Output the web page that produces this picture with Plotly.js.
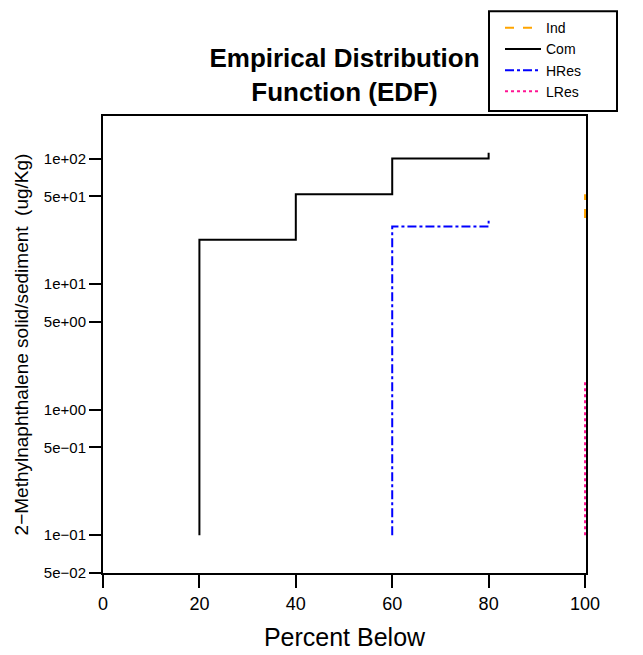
<!DOCTYPE html>
<html>
<head>
<meta charset="utf-8">
<script src="https://cdn.plot.ly/plotly-3.0.1.min.js"></script>
<style>html,body{margin:0;padding:0;background:#fff;}#chart{width:643px;height:655px;}</style>
</head>
<body>
<div id="chart"></div>
<script>
// Step-path points (percent below, concentration)
const indPct = [100, 100];
const indVal = [33.6, 52];
const comPct = [20, 40, 60, 80, 80];
const comVal = [0.1, 22.6, 52, 100, 111];
const hresPct = [60, 80, 80];
const hresVal = [0.1, 28.8, 32];
const lresPct = [100, 100];
const lresVal = [0.1, 1.75];

const yTickVals = [100, 50, 10, 5, 1, 0.5, 0.1, 0.05];
const yTickText = ["1e+02", "5e+01", "1e+01", "5e+00", "1e+00", "5e\u221201", "1e\u221201", "5e\u221202"];
const xTickVals = [0, 20, 40, 60, 80, 100];

const FONT = "Liberation Sans, Arial, Helvetica, sans-serif";

const traces = [
  {name: "Ind", x: indPct, y: indVal, mode: "lines", line: {color: "#FFA500", width: 2, dash: "dash"}},
  {name: "Com", x: comPct, y: comVal, mode: "lines", line: {color: "#000000", width: 2, shape: "vh"}},
  {name: "HRes", x: hresPct, y: hresVal, mode: "lines", line: {color: "#0000FF", width: 2, dash: "dashdot", shape: "vh"}},
  {name: "LRes", x: lresPct, y: lresVal, mode: "lines", line: {color: "#FF1493", width: 2, dash: "dot"}}
];

const layout = {
  width: 643, height: 655,
  margin: {l: 103, r: 57, t: 111, b: 82},
  paper_bgcolor: "#fff", plot_bgcolor: "#fff",
  font: {family: FONT, color: "#000"},
  title: {
    text: "<b>Empirical Distribution<br>Function (EDF)</b>",
    font: {family: FONT, size: 26, color: "#000"},
    x: 0.5, xref: "paper", xanchor: "center",
    y: 0.898, yref: "container", yanchor: "middle"
  },
  xaxis: {
    range: [0, 100.2], tickvals: xTickVals, ticktext: xTickVals.map(String),
    ticks: "outside", ticklen: 13, tickwidth: 2, tickcolor: "#000",
    showline: true, linewidth: 2, linecolor: "#000", mirror: true,
    showgrid: false, zeroline: false, layer: "below traces",
    tickfont: {family: FONT, size: 18, color: "#000"},
    title: {text: "Percent Below", font: {family: FONT, size: 25, color: "#000"}, standoff: 16}
  },
  yaxis: {
    type: "log", range: [Math.log10(0.05), 2.339],
    tickvals: yTickVals, ticktext: yTickText,
    ticks: "outside", ticklen: 12, tickwidth: 2, tickcolor: "#000",
    showline: true, linewidth: 2, linecolor: "#000", mirror: true,
    showgrid: false, zeroline: false, layer: "below traces",
    tickfont: {family: FONT, size: 15, color: "#000"},
    title: {text: "2\u2212Methylnaphthalene solid/sediment  (ug/Kg)", font: {family: FONT, size: 19, color: "#000"}, standoff: 10}
  },
  showlegend: true,
  legend: {
    x: (500 - 103) / 483, y: 1 + (111 - 6) / 462, xanchor: "left", yanchor: "top",
    xref: "paper", yref: "paper",
    borderwidth: 0, bgcolor: "rgba(0,0,0,0)",
    font: {family: FONT, size: 14, color: "#000"},
    itemwidth: 36, tracegroupgap: 0, traceorder: "normal"
  },
  shapes: [{
    type: "rect", xref: "paper", yref: "paper",
    x0: (489 - 103) / 483, x1: (617 - 103) / 483,
    y0: 1 + (111 - 106) / 462, y1: 1 + (111 - 5) / 462,
    line: {color: "#000", width: 2}, fillcolor: "rgba(0,0,0,0)", layer: "below"
  }]
};

Plotly.newPlot("chart", traces, layout, {displayModeBar: false, staticPlot: true});
</script>
</body>
</html>
